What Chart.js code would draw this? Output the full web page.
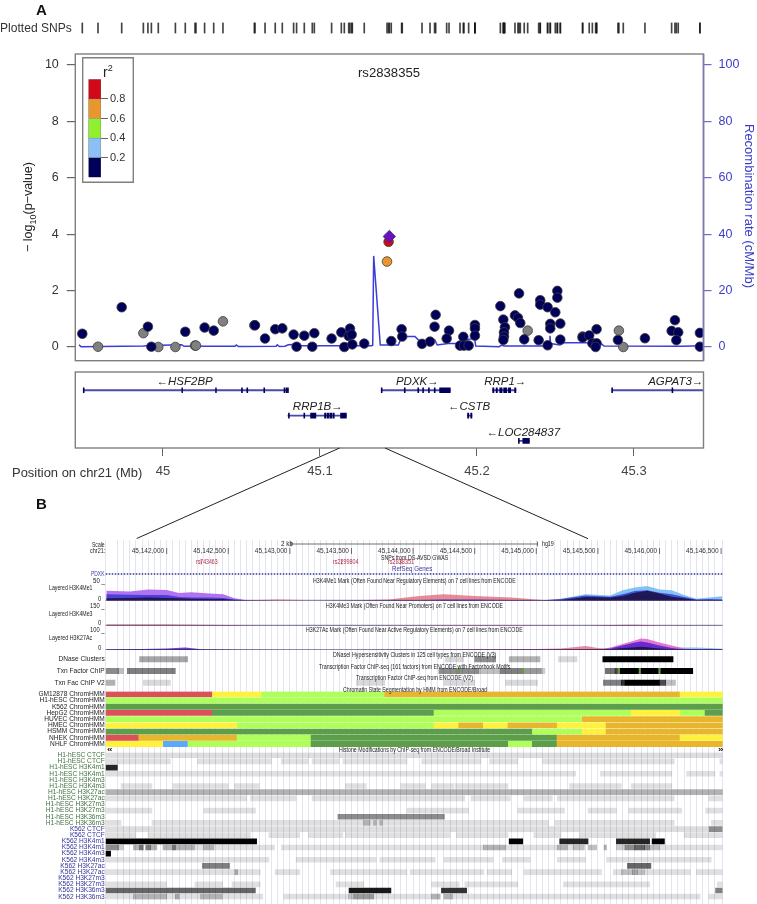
<!DOCTYPE html>
<html>
<head>
<meta charset="utf-8">
<title>rs2838355 locus</title>
<script src="https://cdn.jsdelivr.net/npm/chart.js@4"></script>
<style>
  html, body { margin: 0; padding: 0; background: #fff; }
  #page { position: relative; width: 757px; height: 904px; overflow: hidden; font-family: "Liberation Sans", Arial, sans-serif; }
  #page canvas { position: absolute; left: 0; }
  #page span { position: absolute; white-space: nowrap; }
  #links { position: absolute; left: 0; top: 0; }
</style>
</head>
<body>
<div id="page"></div>
<script>
// panel A, values are [position in Mb, -log10 p]
const navySnps = [[44.9486,.47],[44.9737,1.41],[44.9904,.72],[44.9926,.01],[45.0142,.54],[45.0265,.69],[45.0323,.58],[45.0582,.77],[45.0586,.77],[45.0650,.30],[45.0715,.63],[45.0760,.66],[45.0832,.44],[45.0851,.01],[45.0900,.40],[45.0951,.01],[45.0964,.49],[45.1074,.30],[45.1136,.52],[45.1155,0],[45.1191,.65],[45.1183,.39],[45.1202,.44],[45.1206,.09],[45.1282,.12],[45.1454,.21],[45.1520,.63],[45.1524,.37],[45.1650,.11],[45.1701,.19],[45.1737,1.14],[45.1730,.72],[45.1822,.58],[45.1807,.30],[45.1913,.36],[45.1892,.05],[45.1917,.05],[45.1947,.05],[45.1987,.78],[45.1987,.66],[45.1987,.40],[45.2149,1.45],[45.2168,.97],[45.2178,.70],[45.2172,.52],[45.2172,.37],[45.2168,.25],[45.2242,1.12],[45.2261,1.03],[45.2276,.85],[45.2268,1.9],[45.2301,.27],[45.2393,.24],[45.2403,1.66],[45.2403,1.50],[45.2450,1.41],[45.2450,.06],[45.2467,.82],[45.2467,.66],[45.2499,1.23],[45.2512,1.99],[45.2512,1.75],[45.2531,.83],[45.2531,.26],[45.2673,.37],[45.2673,.33],[45.2715,.41],[45.2735,.13],[45.2762,.13],[45.2762,.63],[45.2756,0],[45.2898,.25],[45.3070,.31],[45.3240,.57],[45.3261,.95],[45.3282,.52],[45.3270,.24],[45.3420,.50],[45.3420,.01]];
const graySnps = [[44.9586,.01],[44.9875,.49],[44.9970,0],[45.0079,0],[45.0204,.05],[45.0210,.05],[45.0382,.91],[45.2323,.58],[45.2904,.58],[45.2932,0]];
const redSnp = [[45.1437,3.73]];
const orangeSnp = [[45.1427,3.03]];
const leadSnp = [[45.1442,3.92]];
const recombMb = [44.9465,44.9478,44.9875,44.9917,45.0119,45.0134,45.0459,45.0467,45.0480,45.0720,45.0728,45.0741,45.0777,45.0798,45.0830,45.0873,45.1329,45.1336,45.1342,45.1384,45.1499,45.1510,45.1527,45.1605,45.1637,45.1732,45.1747,45.1817,45.1938,45.1943,45.1985,45.1992,45.2142,45.2157,45.2172,45.2423,45.2437,45.2461,45.2465,45.2469,45.2529,45.2554,45.2709,45.2794,45.2809,45.3304,45.3441];
const recombRate = [.8,.1,.35,.5,.8,.25,.25,.7,.15,.25,.8,.15,.25,.8,.9,.45,.45,.6,32.3,.7,.7,2.2,3.7,3.7,1.9,2.5,.7,1.2,1.2,2.7,3,.35,.1,.7,.35,.35,1.2,.9,4,1.2,.7,1.5,1.5,1.1,.35,.25,.45];
const logPTicks = [0, 2, 4, 6, 8, 10];
const rateTicks = [0, 20, 40, 60, 80, 100];
const mbTicks = [45, 45.1, 45.2, 45.3];
const r2Bins = [[0, .2], [.2, .4], [.4, .6], [.6, .8], [.8, 1]];
const r2Colors = ['#00005a', '#8cc0f4', '#90f030', '#e8962e', '#d00818'];
const r2Ticks = [.2, .4, .6, .8];

// genes, [start, end, row] in Mb offset from 45, row 2 is the top one
const geneSpans = [[-.0506,.0796,2],[.0796,.1168,1],[.1393,.1830,2],[.2100,.2248,2],[.2860,.3445,2],[.1940,.1968,1],[.2264,.2334,0]];
const geneExons = [[-.0508,-.0502,2],[.0120,.0125,2],[.0335,.0340,2],[.0500,.0506,2],[.0534,.0540,2],[.0642,.0648,2],[.0771,.0777,2],[.0784,.0790,2],[.0793,.0799,2],
  [.0799,.0805,1],[.0897,.0903,1],[.0940,.0974,1],[.1029,.1038,1],[.1045,.1055,1],[.1062,.1075,1],[.1082,.1091,1],[.1131,.1168,1],
  [.1390,.1396,2],[.1537,.1543,2],[.1623,.1629,2],[.1654,.1660,2],[.1691,.1697,2],[.1728,.1734,2],[.1762,.1830,2],
  [.2100,.2108,2],[.2122,.2130,2],[.2145,.2160,2],[.2170,.2190,2],[.2200,.2215,2],[.2240,.2248,2],
  [.2858,.2864,2],[.3242,.3248,2],[.1940,.1948,1],[.1960,.1968,1],[.2264,.2270,0],[.2292,.2334,0]];
const geneLabels = ['\u2190HSF2BP', 'RRP1B\u2192', 'PDXK\u2192', 'RRP1\u2192', 'AGPAT3\u2192', '\u2190CSTB', '\u2190LOC284837'];
const geneLabelMb = [.0138, .0986, .1620, .2180, .3266, .1950, .2295];
const geneLabelRow = [2, 1, 2, 2, 2, 1, 0];

// panel B, positions are kb past 45,140,000
const rulerKb = [2, 2.5, 3, 3.5, 4, 4.5, 5, 5.5, 6, 6.5];
const snpKb = [2.28, 3.42, 3.90];
const geneTrackKb = [1.505, 6.513];
const scaleBarKb = [3.01, 5.01];

const me1Kb = [1.51,1.7,1.85,2.0,2.1,2.2,2.35,2.46,2.55,2.65,2.9,3.2,3.5,3.8,4.05,4.25,4.5,4.8,5.05,5.2,5.4,5.6,5.7,5.8,5.9,6.0,6.1,6.2,6.3,6.4,6.51];
const me1Cyan = [0,0,0,0,0,0,0,0,0,0,0,0,0,0,0,0,0,0,0,5,16,13,26,33,37,28,26,14,5,8,11];
const me1Purple = [25,23,28,27,19,21,18,16,6,1,0,0,1,2,2,2,2,1,1,2,5,4,6,10,12,9,7,4,2,2,2];
const me1Red = [3,4,4,3,2,2,2,1,1,1,3,1,1,3,12,16,12,8,2,1,2,2,3,3,3,3,2,1,1,1,1];
const me1Blue = [16,15,14,14,9,8,8,7,3,1,0,0,1,2,2,3,3,2,1,4,13,10,16,24,26,20,16,9,3,4,3];
const me1Dark = [6,7,8,7,6,5,4,4,2,1,0,0,0,1,1,2,2,1,1,2,9,8,12,20,25,18,10,6,2,2,2];

const me3Kb = [1.51,2.0,2.5,2.75,3.5,4.0,4.5,5.0,5.4,5.6,5.8,6.0,6.51];
const me3Red = [10,9,6,2,1,4,5,3,2,6,8,3,1];
const me3Dark = [4,4,3,1,1,1,2,1,1,3,3,1,1];

const acKb = [1.51,1.8,2.0,2.15,2.3,2.6,3.0,3.5,4.0,4.4,4.8,5.2,5.4,5.5,5.6,5.7,5.8,5.85,5.9,6.0,6.1,6.2,6.3,6.4,6.51];
const acCyan = [0,0,0,0,0,0,0,0,0,0,0,0,0,0,0,0,0,0,0,6,13,12,12,10,6];
const acMagenta = [1,1,1,1,1,0,0,0,1,1,2,5,3,4,12,30,48,58,55,38,22,8,3,1,1];
const acRed = [1,1,1,1,1,0,0,0,1,2,3,8,20,10,4,4,6,8,8,6,3,1,0,0,0];
const acBlue = [2,5,8,12,3,1,0,0,1,1,1,2,3,3,8,22,38,42,38,22,10,3,2,2,2];
const acDark = [1,1,1,2,1,0,0,0,0,1,1,1,2,2,4,10,14,16,14,8,4,2,2,2,2];

// [start, end, score], score 1 is black
const chipLabels = ['DNase Clusters', 'Txn Factor ChIP', 'Txn Fac ChIP V2'];
const chipRows = [
  [[1.78,2.17,.35],[4.26,4.41,.15],[4.50,4.67,.45],[4.78,5.03,.3],[5.18,5.33,.15],[5.54,6.11,1]],
  [[1.505,1.61,.45],[1.61,1.65,.25],[1.68,2.07,.5],[4.21,4.53,.45],[4.53,4.71,.25],[4.71,4.89,.5],[4.89,5.04,.4],[5.04,5.07,.2],[5.56,5.64,.55],[5.64,5.68,.7],[5.68,6.27,1]],
  [[1.505,1.58,.3],[1.81,2.03,.15],[3.54,3.77,.15],[4.25,4.50,.15],[4.75,5.01,.15],[5.545,5.69,.5],[5.69,5.72,.8],[5.72,6.00,1],[6.00,6.05,.7],[6.05,6.13,.25]]
];
const motifKb = [4.37, 4.89, 5.67, 5.84, 6.00];

const hmmLabels = ['GM12878 ChromHMM','H1-hESC ChromHMM','K562 ChromHMM','HepG2 ChromHMM','HUVEC ChromHMM','HMEC ChromHMM','HSMM ChromHMM','NHEK ChromHMM','NHLF ChromHMM'];
const hmmRows = [
  [[1.505,2.371,'red'],[2.371,2.77,'yellow'],[2.77,3.77,'lime'],[3.77,6.167,'orange'],[6.167,6.513,'yellow']],
  [[1.505,6.513,'lime']],
  [[1.505,6.513,'green']],
  [[1.505,2.371,'red'],[2.371,4.17,'green'],[4.17,5.77,'lime'],[5.77,6.167,'yellow'],[6.167,6.37,'lime'],[6.37,6.513,'green']],
  [[1.505,5.374,'lime'],[5.374,6.513,'orange']],
  [[1.505,2.574,'yellow'],[2.574,4.17,'lime'],[4.17,4.37,'yellow'],[4.37,4.57,'orange'],[4.57,4.77,'yellow'],[4.77,5.17,'orange'],[5.17,5.566,'yellow'],[5.566,6.513,'orange']],
  [[1.505,4.968,'green'],[4.968,5.374,'lime'],[5.374,5.566,'yellow'],[5.566,6.513,'orange']],
  [[1.505,1.773,'red'],[1.773,2.571,'orange'],[2.571,3.172,'lime'],[3.172,5.168,'green'],[5.168,6.167,'orange'],[6.167,6.513,'yellow']],
  [[1.505,1.973,'yellow'],[1.973,2.173,'blue'],[2.173,3.172,'lime'],[3.172,4.773,'green'],[4.773,4.968,'lime'],[4.968,5.168,'green'],[5.168,6.513,'orange']]
];
const hmmColors = { red: '#dc5058', yellow: '#fff23c', lime: '#aeff5a', green: '#5c9e4a', orange: '#e8b62c', blue: '#5aa9ff' };

const histoneLabels = ['H1-hESC CTCF','H1-hESC CTCF','H1-hESC H3K4m1','H1-hESC H3K4m1','H1-hESC H3K4m3','H1-hESC H3K4m3','H1-hESC H3K27ac','H1-hESC H3K27ac','H1-hESC H3K27m3','H1-hESC H3K27m3','H1-hESC H3K36m3','H1-hESC H3K36m3',
  'K562 CTCF','K562 CTCF','K562 H3K4m1','K562 H3K4m1','K562 H3K4m3','K562 H3K4m3','K562 H3K27ac','K562 H3K27ac','K562 H3K27m3','K562 H3K27m3','K562 H3K36m3','K562 H3K36m3'];
const histoneRows = [
  [[1.505,6.513,.13]],
  [[1.505,2.03,.12],[2.25,2.85,.12],[2.93,3.15,.12],[3.18,3.40,.12],[3.43,3.95,.12],[4.07,4.55,.12],[4.62,4.85,.12],[5.05,6.12,.12],[6.49,6.51,.12]],
  [[1.505,1.60,.85]],
  [[1.505,5.32,.12],[5.52,6.10,.12],[6.22,6.45,.12],[6.49,6.51,.12]],
  [],
  [[1.63,1.88,.12],[2.05,2.50,.12],[2.55,2.75,.12],[3.45,3.62,.12],[3.90,4.10,.12],[4.15,4.33,.12],[4.34,4.77,.12],[5.27,5.69,.12],[5.77,6.10,.12]],
  [[1.505,6.513,.3]],
  [[1.505,2.65,.12],[2.68,3.05,.12],[3.18,4.42,.12],[4.47,4.79,.12],[4.90,5.13,.12],[5.17,6.12,.12],[6.40,6.51,.12]],
  [],
  [[1.505,1.88,.12],[2.30,2.72,.12],[3.95,4.45,.12],[4.85,5.23,.12],[5.42,5.65,.12],[5.75,6.18,.12],[6.375,6.51,.12]],
  [[3.39,4.254,.45]],
  [[1.505,1.63,.12],[1.88,3.60,.12],[3.60,3.65,.3],[3.65,3.68,.12],[3.68,3.70,.3],[3.70,3.73,.12],[3.73,3.75,.3],[3.75,5.10,.12],[5.15,6.12,.12],[6.42,6.51,.12]],
  [[1.505,6.405,.13],[6.405,6.51,.45]],
  [[1.505,1.75,.12],[1.85,2.68,.12],[2.83,3.08,.12],[3.15,3.43,.12],[3.45,4.30,.12],[4.35,4.77,.12],[4.98,5.20,.12],[5.35,5.97,.12],[6.20,6.51,.12]],
  [[1.505,2.73,1],[4.78,4.89,1],[5.19,5.42,.85],[5.65,5.92,.85],[5.94,6.04,1]],
  [[1.505,1.61,.45],[1.61,1.65,.2],[1.73,1.78,.3],[1.78,1.81,.55],[1.83,1.87,.5],[1.87,1.92,.3],[1.97,2.05,.3],[2.05,2.07,.55],[2.07,2.225,.3],[2.225,2.30,.12],[2.30,2.38,.3],[2.38,2.875,.12],[2.93,4.57,.12],[4.57,4.75,.3],[4.75,5.17,.12],[5.17,5.25,.3],[5.25,5.30,.12],[5.30,5.39,.25],[5.42,5.49,.25],[5.55,5.57,.3],[5.65,5.72,.2],[5.72,5.80,.45],[5.80,5.88,.6],[5.88,5.92,.45],[5.92,6.00,.25],[6.00,6.51,.12]],
  [[1.505,1.545,1]],
  [[1.505,2.83,.12],[3.05,3.70,.12],[3.73,4.18,.12],[4.25,4.65,.12],[4.725,4.95,.12],[5.17,5.40,.12],[5.57,6.42,.12]],
  [[2.29,2.51,.5],[5.74,5.93,.6]],
  [[1.505,2.555,.12],[2.555,2.575,.35],[2.575,2.76,.12],[2.88,3.08,.12],[3.33,3.95,.12],[3.975,4.575,.12],[4.60,4.80,.12],[4.90,5.53,.12],[5.625,5.69,.12],[5.69,5.78,.25],[5.78,5.82,.35],[5.82,5.88,.25],[5.88,6.25,.12],[6.30,6.51,.12]],
  [],
  [[1.505,2.00,.12],[2.23,2.455,.12],[2.53,2.76,.12],[3.375,3.60,.12],[4.15,4.375,.12],[4.42,4.85,.12],[5.22,5.92,.12],[6.47,6.51,.12]],
  [[1.505,2.72,.6],[3.48,3.82,.9],[4.23,4.435,.8],[6.455,6.51,.5]],
  [[1.505,1.73,.12],[1.73,2.00,.3],[2.00,2.07,.12],[2.07,2.10,.35],[2.10,2.275,.12],[2.275,2.45,.3],[2.45,2.78,.12],[2.95,3.475,.12],[3.475,3.52,.25],[3.52,3.68,.4],[3.68,4.15,.12],[4.15,4.22,.3],[4.25,4.32,.3],[4.32,6.33,.12],[6.40,6.51,.12]]
];

const page = document.getElementById('page');
const narrow = '"Liberation Sans Narrow", "Liberation Sans", Arial, sans-serif';
const sans = '"Liberation Sans", Arial, sans-serif';
const mbMin = 44.94414, mbMax = 45.3443;
const kbMin = 1.505, kbMax = 6.513;
const panelLeft = 75.3, panelRight = 53.5;
const trackLeft = 105.7, trackRight = 34.3;

Chart.defaults.animation = false;
Chart.defaults.responsive = false;
Chart.defaults.plugins.legend.display = false;
Chart.defaults.plugins.tooltip.enabled = false;

function addCanvas(top, height, width, left) {
  const c = document.createElement('canvas');
  c.width = width || 757;
  c.height = height;
  c.style.top = top + 'px';
  c.style.left = (left || 0) + 'px';
  page.appendChild(c);
  return c;
}

// free text, fitted to the width it has in the figure when w is given
function label(str, x, y, w, o) {
  o = o || {};
  const s = document.createElement('span');
  s.innerHTML = str;
  s.style.left = x + 'px';
  s.style.top = y + 'px';
  s.style.fontSize = (o.size || 6.6) + 'px';
  s.style.fontFamily = o.font || sans;
  s.style.color = o.color || '#222';
  s.style.lineHeight = '1';
  if (o.weight) s.style.fontWeight = o.weight;
  page.appendChild(s);
  let k = 1;
  if (w) k = w / s.offsetWidth;
  s.style.transformOrigin = 'left center';
  s.style.transform = 'translateY(-50%) scaleX(' + k + ')';
  return s;
}

function turned(str, cx, cy, deg, size, color) {
  const s = document.createElement('span');
  s.innerHTML = str;
  s.style.left = cx + 'px';
  s.style.top = cy + 'px';
  s.style.fontSize = size + 'px';
  s.style.color = color;
  s.style.transform = 'translate(-50%,-50%) rotate(' + deg + 'deg)';
  page.appendChild(s);
}

const frame = {
  id: 'frame',
  afterDatasetsDraw(chart) {
    const a = chart.chartArea, ctx = chart.ctx;
    ctx.save();
    ctx.strokeStyle = '#7f7f7f';
    ctx.lineWidth = 1.4;
    ctx.strokeRect(a.left, a.top, a.right - a.left, a.bottom - a.top);
    ctx.restore();
  }
};
const rateEdge = {
  id: 'rateEdge',
  afterDatasetsDraw(chart) {
    const a = chart.chartArea, ctx = chart.ctx;
    ctx.save();
    ctx.strokeStyle = '#7a7ab4';
    ctx.lineWidth = 1.6;
    ctx.beginPath(); ctx.moveTo(a.right, a.top); ctx.lineTo(a.right, a.bottom); ctx.stroke();
    ctx.restore();
  }
};
// axis labels may not push the plot area in, the areas are set by the figure
function noLabelPadding(s) { s.paddingTop = 0; s.paddingBottom = 0; s.paddingLeft = 0; s.paddingRight = 0; }

// plotted SNPs rug
const allSnps = [...navySnps, ...graySnps, ...redSnp, ...orangeSnp, ...leadSnp];
new Chart(addCanvas(20, 16), {
  type: 'bar',
  data: { datasets: [{
    data: allSnps.map(p => ({ x: p[0], y: [0, 1] })),
    backgroundColor: 'rgba(20,20,20,.8)', barThickness: 1, grouped: false
  }] },
  options: {
    layout: { padding: { left: panelLeft, right: panelRight, top: 2.5, bottom: 2.5 } },
    scales: {
      x: { type: 'linear', offset: false, display: false, min: mbMin, max: mbMax },
      y: { display: false, min: 0, max: 1 }
    }
  }
});

// association plot, the first dataset is drawn on top
function pointSet(list, color, style, radius, border, order) {
  return {
    type: 'scatter', data: list.map(p => ({ x: p[0], y: p[1] })), order: order,
    pointStyle: style || 'circle', radius: radius || 4.8,
    backgroundColor: color, borderColor: border || '#3c3c3c', borderWidth: 0.8
  };
}
new Chart(addCanvas(40, 330), {
  type: 'scatter',
  data: { datasets: [
    pointSet(leadSnp, '#6a10c0', 'rectRot', 6.2, '#303060', 1),
    pointSet(redSnp, '#c80c20', null, null, null, 2),
    pointSet(orangeSnp, '#e8962e', null, null, null, 3),
    pointSet(navySnps, '#00005a', null, null, null, 4),
    pointSet(graySnps, '#808080', null, null, null, 5),
    {
      type: 'line', yAxisID: 'rate', order: 6,
      data: recombMb.map((x, i) => ({ x: x, y: recombRate[i] })),
      borderColor: '#3c3cd8', borderWidth: 1.5, pointRadius: 0, fill: false
    }
  ] },
  options: {
    layout: { padding: { top: 14, bottom: 9.3 } },
    scales: {
      x: { type: 'linear', display: false, min: mbMin, max: mbMax },
      y: {
        min: -.486, max: 10.39, position: 'left',
        afterBuildTicks: s => { s.ticks = logPTicks.map(v => ({ value: v })); },
        afterFit: s => { s.width = panelLeft; noLabelPadding(s); },
        grid: { drawOnChartArea: false, tickLength: 8.5, color: '#666', lineWidth: 1.2 },
        border: { display: false },
        ticks: { color: '#333', font: { size: 12.5, family: sans }, padding: 8 }
      },
      rate: {
        min: -4.86, max: 103.9, position: 'right',
        afterBuildTicks: s => { s.ticks = rateTicks.map(v => ({ value: v })); },
        afterFit: s => { s.width = panelRight; noLabelPadding(s); },
        grid: { drawOnChartArea: false, tickLength: 8, color: '#6a6ad0', lineWidth: 1.2 },
        border: { display: false },
        ticks: { color: '#3c3cc8', font: { size: 12.5, family: sans }, padding: 7 }
      }
    }
  },
  plugins: [frame, rateEdge]
});

// r2 key
const keyCanvas = addCanvas(57, 126, 52, 82);
keyCanvas.style.background = '#fff';
keyCanvas.style.boxShadow = 'inset 0 0 0 1.4px #7f7f7f';
new Chart(keyCanvas, {
  type: 'bar',
  data: { labels: ['r2'], datasets: r2Bins.map((b, i) => ({
    data: [b], backgroundColor: r2Colors[i], borderColor: '#666', borderWidth: 0.6,
    barPercentage: 1, categoryPercentage: 1, grouped: false
  })) },
  options: {
    layout: { padding: { left: 6.4, top: 22.3, bottom: 5.7 } },
    scales: {
      x: { display: false },
      y: {
        position: 'right', min: 0, max: 1,
        afterBuildTicks: s => { s.ticks = r2Ticks.map(v => ({ value: v })); },
        afterFit: s => { s.width = 33; noLabelPadding(s); },
        grid: { drawOnChartArea: false, tickLength: 7, color: '#666' },
        border: { display: false },
        ticks: { color: '#333', font: { size: 11, family: sans }, padding: 2, callback: v => v.toFixed(1) }
      }
    }
  }
});

// gene models
const geneNamesPlugin = {
  id: 'geneNames',
  afterDatasetsDraw(chart) {
    const ctx = chart.ctx, x = chart.scales.x, y = chart.scales.y;
    ctx.save();
    ctx.font = 'italic 11.5px ' + sans;
    ctx.fillStyle = '#222';
    ctx.textAlign = 'center';
    ctx.textBaseline = 'middle';
    geneLabels.forEach((t, i) => {
      ctx.fillText(t, x.getPixelForValue(45 + geneLabelMb[i]), y.getPixelForValue(geneLabelRow[i]) - 8.5);
    });
    ctx.restore();
  }
};
new Chart(addCanvas(365, 125), {
  type: 'bar',
  data: { datasets: [
    {
      data: geneExons.map(g => ({ x: [45 + g[0], 45 + g[1]], y: g[2] })),
      backgroundColor: '#00005a', barThickness: 5, grouped: false
    },
    {
      data: geneSpans.map(g => ({ x: [45 + g[0], 45 + g[1]], y: g[2] })),
      backgroundColor: '#4a4aa8', barThickness: 1.2, grouped: false
    }
  ] },
  options: {
    indexAxis: 'y',
    layout: { padding: { left: panelLeft, right: panelRight, top: 7 } },
    scales: {
      x: {
        type: 'linear', position: 'bottom', min: mbMin, max: mbMax,
        afterBuildTicks: s => { s.ticks = mbTicks.map(v => ({ value: v })); },
        afterFit: s => { s.height = 42; noLabelPadding(s); },
        grid: { drawOnChartArea: false, tickLength: 8, color: '#666' },
        border: { display: false },
        ticks: { color: '#444', font: { size: 13, family: sans }, padding: 8, maxRotation: 0, callback: v => String(v) }
      },
      // rows sit at .28 above each whole number
      y: { type: 'linear', offset: false, display: false, min: -.28, max: 2.72 }
    }
  },
  plugins: [frame, geneNamesPlugin]
});

// browser window: grid lines, ruler, SNP ticks, gene line
const rulerPlugin = {
  id: 'ruler',
  afterDatasetsDraw(chart) {
    const ctx = chart.ctx, x = chart.scales.x, top = chart.chartArea.top;
    ctx.save();
    ctx.font = '6.5px ' + narrow;
    ctx.textBaseline = 'middle';
    ctx.textAlign = 'right';
    ctx.strokeStyle = '#333';
    ctx.fillStyle = '#333';
    ctx.lineWidth = 0.7;
    rulerKb.forEach(v => {
      const px = x.getPixelForValue(v);
      ctx.beginPath(); ctx.moveTo(px, top + 8); ctx.lineTo(px, top + 14); ctx.stroke();
      ctx.fillText('45,1' + String(Math.round(v * 1000 + 40000)).replace(/(\d\d)(\d\d\d)$/, '$1,$2'), px - 2.5, top + 11);
    });
    const a = x.getPixelForValue(scaleBarKb[0]), b = x.getPixelForValue(scaleBarKb[1]);
    ctx.beginPath();
    ctx.moveTo(a, top + 4); ctx.lineTo(b, top + 4);
    ctx.moveTo(a, top + 1.5); ctx.lineTo(a, top + 6.5);
    ctx.moveTo(b, top + 1.5); ctx.lineTo(b, top + 6.5);
    ctx.stroke();
    ctx.strokeStyle = '#b03048';
    snpKb.forEach(v => {
      const px = x.getPixelForValue(v);
      ctx.beginPath(); ctx.moveTo(px, top + 19.5); ctx.lineTo(px, top + 24.5); ctx.stroke();
    });
    ctx.strokeStyle = '#3a3a9a';
    ctx.lineWidth = 1.6;
    ctx.setLineDash([1.6, 1.4]);
    ctx.beginPath();
    ctx.moveTo(x.getPixelForValue(geneTrackKb[0]), top + 34);
    ctx.lineTo(x.getPixelForValue(geneTrackKb[1]), top + 34);
    ctx.stroke();
    ctx.restore();
  }
};
new Chart(addCanvas(540, 364), {
  type: 'scatter',
  data: { datasets: [{ data: [] }] },
  options: {
    layout: { padding: { left: trackLeft, right: trackRight } },
    scales: {
      x: {
        type: 'linear', min: kbMin, max: kbMax,
        afterFit: s => { s.height = 0; noLabelPadding(s); },
        grid: { color: '#e3e3f2', lineWidth: 1, drawTicks: false },
        border: { display: false },
        ticks: { display: false, stepSize: .05, autoSkip: false }
      },
      y: { display: false, min: 0, max: 1 }
    }
  },
  plugins: [rulerPlugin]
});

// layered signal tracks, the first layer is drawn on top
function layer(pos, vals, color) {
  return {
    data: pos.map((x, i) => ({ x: x, y: vals[i] })),
    backgroundColor: color, borderWidth: 0, pointRadius: 0, fill: 'origin', showLine: true
  };
}
function signalChart(top, bottom, yMax, layers) {
  const t = Math.floor(top), b = Math.ceil(bottom);
  new Chart(addCanvas(t, b - t), {
    type: 'scatter',
    data: { datasets: layers },
    options: {
      layout: { padding: { left: trackLeft, right: trackRight, top: top - t, bottom: b - bottom } },
      scales: {
        x: { type: 'linear', display: false, min: kbMin, max: kbMax },
        y: { display: false, min: 0, max: yMax }
      }
    },
    plugins: [{
      id: 'base',
      afterDatasetsDraw(chart) {
        const a = chart.chartArea, ctx = chart.ctx;
        ctx.save();
        ctx.strokeStyle = 'rgba(60,50,90,.8)';
        ctx.lineWidth = 0.8;
        ctx.beginPath(); ctx.moveTo(a.left, a.bottom - .4); ctx.lineTo(a.right, a.bottom - .4); ctx.stroke();
        ctx.restore();
      }
    }]
  });
}
signalChart(580.7, 600.7, 50, [
  layer(me1Kb, me1Dark, 'rgba(25,15,60,.85)'),
  layer(me1Kb, me1Blue, 'rgba(50,50,215,.8)'),
  layer(me1Kb, me1Red, 'rgba(225,100,115,.75)'),
  layer(me1Kb, me1Purple, 'rgba(170,100,240,.9)'),
  layer(me1Kb, me1Cyan, 'rgba(110,185,240,.85)')
]);
signalChart(606, 625.7, 150, [
  layer(me3Kb, me3Dark, 'rgba(40,20,70,.85)'),
  layer(me3Kb, me3Red, 'rgba(210,70,95,.85)')
]);
signalChart(630, 650, 100, [
  layer(acKb, acDark, 'rgba(25,15,60,.85)'),
  layer(acKb, acBlue, 'rgba(80,30,215,.85)'),
  layer(acKb, acRed, 'rgba(225,110,125,.8)'),
  layer(acKb, acMagenta, 'rgba(225,95,200,.85)'),
  layer(acKb, acCyan, 'rgba(125,180,240,.85)')
]);

// rows of blocks; the row number is the y value, the label comes from the y axis
function rowChart(top, rowH, barH, labels, rows, colorOf, labelColor, extra) {
  const bottom = top + rowH * labels.length;
  const t = Math.floor(top), b = Math.ceil(bottom);
  const blocks = [];
  rows.forEach((row, r) => row.forEach(seg => blocks.push({ seg: seg, r: r })));
  const datasets = [];
  if (extra) datasets.push(extra);
  datasets.push({
    data: blocks.map(d => ({ x: [d.seg[0], d.seg[1]], y: d.r })),
    backgroundColor: blocks.map(d => colorOf(d.seg[2])),
    barThickness: barH, grouped: false
  });
  new Chart(addCanvas(t, b - t), {
    type: 'bar',
    data: { datasets: datasets },
    options: {
      indexAxis: 'y',
      layout: { padding: { right: trackRight, top: top - t, bottom: b - bottom } },
      scales: {
        x: { type: 'linear', display: false, min: kbMin, max: kbMax },
        y: {
          type: 'linear', offset: false, reverse: true, min: -.5, max: labels.length - .5,
          afterBuildTicks: s => { s.ticks = labels.map((l, i) => ({ value: i })); },
          afterFit: s => { s.width = trackLeft; noLabelPadding(s); },
          grid: { display: false, drawTicks: false, offset: false },
          border: { display: false },
          ticks: {
            autoSkip: false, padding: 1,
            font: { size: 6.6, family: narrow },
            color: c => labelColor(c.index),
            callback: v => labels[v]
          }
        }
      }
    }
  });
}
const gray = s => 'rgba(0,0,0,' + s + ')';
rowChart(653.45, 11.7, 5.2, chipLabels, chipRows, gray, () => '#222', {
  data: motifKb.map(k => ({ x: [k - .006, k + .006], y: 1 })),
  backgroundColor: '#5f9e40', barThickness: 5.2, grouped: false
});
rowChart(691.2, 6.21, 5.2, hmmLabels, hmmRows, s => hmmColors[s], () => '#222');
rowChart(752.2, 6.148, 5, histoneLabels, histoneRows, gray, i => (i < 12 ? '#3f6f3f' : '#32329a'));

// connectors from the locus plot to the browser window
page.insertAdjacentHTML('beforeend',
  '<svg id="links" width="757" height="904"><g stroke="#222" stroke-width="1" fill="none">' +
  '<line x1="339.6" y1="448" x2="136.7" y2="538.5"/><line x1="385" y1="448" x2="588" y2="538.7"/></g></svg>');

// panel text
label('A', 36, 9, 0, { size: 15, weight: 'bold', color: '#111' });
label('B', 36, 503, 0, { size: 15, weight: 'bold', color: '#111' });
label('Plotted SNPs', 0, 28, 71.5, { size: 12.5, color: '#333' });
label('rs2838355', 358, 72.7, 62, { size: 12.5 });
label('Position on chr21 (Mb)', 12, 472, 130.5, { size: 13, color: '#333' });
label('r<sup style="font-size:9px;line-height:0">2</sup>', 103, 72, 0, { size: 14, color: '#222' });
turned('\u2212 log<sub style="font-size:9px;line-height:0">10</sub>(p\u2212value)', 27.5, 207, -90, 12.5, '#222');
turned('Recombination rate (cM/Mb)', 749, 206, 90, 13, '#3c3cc8');

const B = { font: narrow };
label('Scale', 92, 544.7, 13, B);
label('chr21:', 90, 551, 15, B);
label('2 kb', 280.7, 544, 11.5, B);
label('hg19', 542, 544, 12, B);
label('SNPs from DS-AVSD GWAS', 380.7, 557.7, 67, B);
label('RefSeq Genes', 392, 569.3, 40, { font: narrow, color: '#3a3a9a' });
label('rs743463', 196, 562, 22, { font: narrow, color: '#b03048' });
label('rs2299804', 333, 562, 25.5, { font: narrow, color: '#b03048' });
label('rs2838351', 388, 562, 26, { font: narrow, color: '#b03048' });
label('PDXK', 91, 574, 13.5, { font: narrow, color: '#3a3a9a' });

label('H3K4Me1 Mark (Often Found Near Regulatory Elements) on 7 cell lines from ENCODE', 313, 580.7, 203, B);
label('H3K4Me3 Mark (Often Found Near Promoters) on 7 cell lines from ENCODE', 326, 605.7, 177, B);
label('H3K27Ac Mark (Often Found Near Active Regulatory Elements) on 7 cell lines from ENCODE', 306, 630, 217, B);
label('DNaseI Hypersensitivity Clusters in 125 cell types from ENCODE (V3)', 333, 654.7, 163, B);
label('Transcription Factor ChIP-seq (161 factors) from ENCODE with Factorbook Motifs', 319, 666.7, 191, B);
label('Transcription Factor ChIP-seq from ENCODE (V2)', 356, 678, 117, B);
label('Chromatin State Segmentation by HMM from ENCODE/Broad', 343, 689.6, 144, B);
label('Histone Modifications by ChIP-seq from ENCODE/Broad Institute', 339, 750.3, 151, B);
label('Layered H3K4Me1', 49, 588, 43.5, B);
label('Layered H3K4Me3', 49, 614, 43.5, B);
label('Layered H3K27Ac', 49, 638, 43.5, B);
label('50 _', 93, 580.7, 12, B);
label('0', 98, 599, 3.5, B);
label('150 _', 90, 606, 15, B);
label('0', 98, 623, 3.5, B);
label('100 _', 90, 630, 15, B);
label('0', 98, 648, 3.5, B);
label('\u00ab', 106.5, 750, 5, { size: 8, weight: 'bold', color: '#222' });
label('\u00bb', 717.5, 750, 5, { size: 8, weight: 'bold', color: '#222' });
</script>
</body>
</html>
